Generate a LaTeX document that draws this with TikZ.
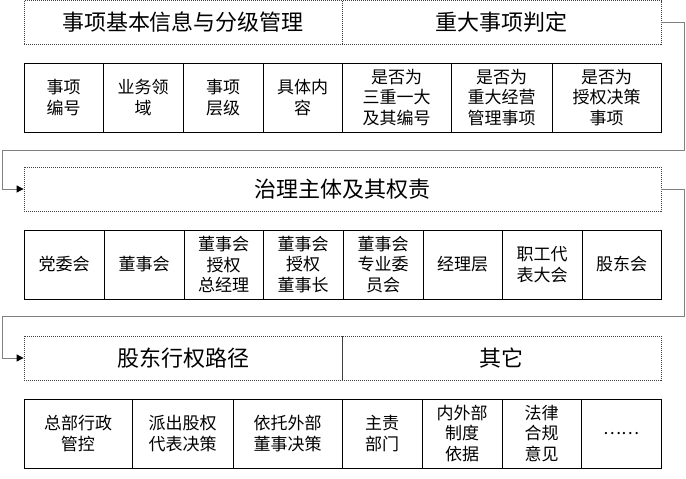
\documentclass[tikz,border=0pt]{standalone}
\usepackage{fontspec}
\usepackage{tikz}
\usetikzlibrary{positioning,calc,arrows.meta}
\setmainfont{Noto Sans CJK SC}

\begin{document}
\begin{tikzpicture}[x=1pt,y=-1pt,
    head/.style={draw=black!75, dash pattern=on 1pt off 1pt, line width=0.8pt, rectangle, minimum height=44pt, inner sep=0pt, font=\fontsize{22}{24}\selectfont},
    cell/.style={draw=black, line width=0.8pt, rectangle, minimum height=69pt, inner sep=0pt, align=center, font=\fontsize{17}{20.5}\selectfont},
    conn/.style={draw=black!50, line width=0.9pt}]
    \useasboundingbox (0,0) rectangle (686,479);

    % Headers
    \node [head, minimum width=318pt] (hd1a) at (183,22.5) {事项基本信息与分级管理};
    \node [head, minimum width=319pt] (hd1b) at (501.5,22.5) {重大事项判定};
    \node [head, minimum width=637pt] (hd2) at (342.5,189) {治理主体及其权责};
    \node [head, minimum width=318pt] (hd3a) at (183,358) {股东行权路径};
    \node [head, minimum width=319pt] (hd3b) at (501.5,358) {其它};

    % Rows
    \foreach \xa/\xb/\t [count=\i] in {24/103/{事项\\编号}, 103/183/{业务领\\域}, 183/263/{事项\\层级}, 263/342/{具体内\\容}, 342/451/{是否为\\三重一大\\及其编号}, 451/552/{是否为\\重大经营\\管理事项}, 552/661/{是否为\\授权决策\\事项}} {
        \node [cell, minimum width={(\xb-\xa)*1pt}] (r1c\i) at ({(\xa+\xb)/2},97.5) {\t};
    }
    \foreach \xa/\xb/\t [count=\i] in {24/104/{党委会}, 104/184/{董事会}, 184/263/{董事会\\授权\\总经理}, 263/343/{董事会\\授权\\董事长}, 343/423/{董事会\\专业委\\员会}, 423/502/{经理层}, 502/582/{职工代\\表大会}, 582/661/{股东会}} {
        \node [cell, minimum width={(\xb-\xa)*1pt}] (r2c\i) at ({(\xa+\xb)/2},264.5) {\t};
    }
    \foreach \xa/\xb/\t [count=\i] in {24/132/{总部行政\\管控}, 132/233/{派出股权\\代表决策}, 233/342/{依托外部\\董事决策}, 342/422/{主责\\部门}, 422/502/{内外部\\制度\\依据}, 502/581/{法律\\合规\\意见}, 581/661/{……}} {
        \node [cell, minimum width={(\xb-\xa)*1pt}] (r3c\i) at ({(\xa+\xb)/2},433.5) {\t};
    }

    % Connections
    \coordinate (bend1r) at (684,150);
    \coordinate (bend1l) at (2,150);
    \coordinate (bend2r) at (684,316);
    \coordinate (bend2l) at (2,316);
    \draw [conn, -{Triangle[length=7pt,width=7pt,color=black]}] (hd1b.east) -| (bend1r) -- (bend1l) |- (hd2.west);
    \draw [conn, -{Triangle[length=7pt,width=7pt,color=black]}] (hd2.east) -| (bend2r) -- (bend2l) |- (hd3a.west);
\end{tikzpicture}
\end{document}
